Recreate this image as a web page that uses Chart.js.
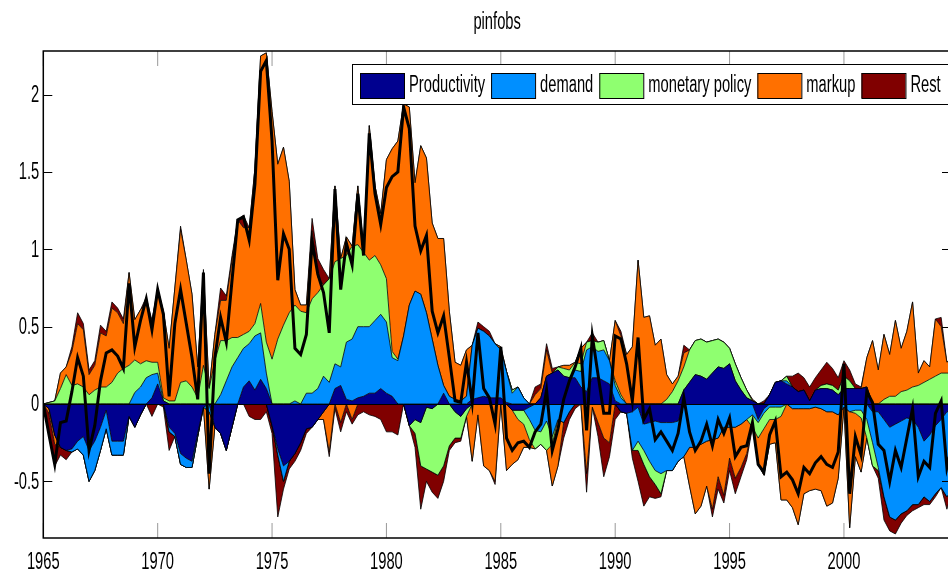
<!DOCTYPE html>
<html><head><meta charset="utf-8">
<script src="https://cdn.jsdelivr.net/npm/chart.js@4.4.1/dist/chart.umd.min.js"></script>
<style>
html,body{margin:0;padding:0;background:#fff;overflow:hidden;width:948px;height:572px;}
#wrap{position:relative;width:952px;height:572px;}
</style></head><body>
<div id="wrap"><canvas id="c" width="952" height="572"></canvas></div>
<script>
const chartTitle = 'pinfobs';
const firstYear = 1965;
const seriesNames = ['Productivity','demand','monetary policy','markup','Rest'];
const seriesColors = ['#00008F','#008FFF','#8FFF70','#FF7000','#800000'];
const xTicks = [1965,1970,1975,1980,1985,1990,1995,2000];
const yTicks = [-0.5,0,0.5,1,1.5,2];

const productivity = [0,-0.03,-0.2,-0.28,-0.3,-0.29,-0.24,-0.21,-0.3,-0.24,
-0.15,-0.04,-0.24,-0.24,-0.24,-0.08,-0.15,-0.07,0,0.04,
0.13,0.02,-0.15,-0.19,-0.32,-0.35,-0.37,-0.19,-0.02,0,
-0.15,-0.19,-0.3,-0.15,0,0.11,0.15,0.09,0.16,0.1,
-0.14,-0.29,-0.4,-0.37,-0.32,-0.25,-0.16,-0.15,-0.1,-0.05,
0,0.1,0.12,0.03,0.02,0.04,0.05,0.07,0.07,0.1,
0.07,0.05,0,0,-0.14,-0.1,-0.12,-0.02,-0.03,0,
0.07,0,-0.05,-0.08,-0.03,0.03,0.04,0.05,0.04,0.04,
0.04,0.01,-0.04,-0.04,-0.04,-0.02,0,0.04,0.18,0.2,
0.22,0.18,0.17,0.17,0.11,0.08,0.17,0.17,0.15,0.13,
0.02,-0.05,-0.06,-0.05,-0.02,-0.13,-0.12,-0.11,-0.12,-0.12,
-0.12,-0.11,0.09,0.14,0.19,0.18,0.16,0.2,0.24,0.23,
0.26,0.15,0.09,0.04,0.02,-0.1,-0.03,0.06,0.14,0.15,
0.13,0.11,0.08,0.09,0.02,0.09,0.1,0.1,0.09,0.06,
0.1,0.1,0.1,0.1,0.11,-0.05,-0.05,-0.1,-0.15,-0.13,
-0.11,-0.09,-0.1,-0.15,-0.24,-0.2,-0.14,-0.1,-0.05,-0.05];

const demand = [0,0,0,0,0,-0.02,-0.05,-0.12,-0.2,-0.19,
-0.15,-0.12,-0.09,-0.09,-0.09,0,0.075,0.11,0.17,0.15,
0.07,0,-0.03,-0.02,-0.07,-0.06,-0.04,-0.02,0,-0.05,
0,0.06,0.15,0.24,0.3,0.25,0.24,0.35,0.3,0.1,
0,-0.04,-0.1,0,0.02,0,0.07,0.07,0.1,0.18,
0.14,0.16,0.12,0.37,0.4,0.46,0.45,0.43,0.47,0.48,
0.46,0.25,0.28,0.44,0.64,0.73,0.71,0.59,0.42,0.25,
0.05,0.05,0.03,0.02,0.05,0.35,0.45,0.42,0.4,0.35,
0.31,0.2,0.07,0.11,0.04,-0.08,-0.17,-0.18,-0.11,-0.21,
-0.1,-0.12,-0.05,0.05,0.1,0.27,0.2,0.17,0.2,0.15,
0.1,0.04,0,-0.25,-0.22,-0.17,-0.25,-0.32,-0.33,-0.31,
-0.31,-0.26,-0.34,-0.28,-0.28,-0.26,-0.24,-0.23,-0.22,-0.15,
-0.15,-0.15,-0.13,-0.1,-0.07,-0.02,-0.03,-0.02,-0.02,-0.02,
0.02,-0.03,-0.03,-0.03,-0.03,-0.02,-0.03,-0.05,-0.05,-0.07,
-0.02,-0.05,-0.04,-0.04,-0.1,-0.2,-0.36,-0.5,-0.58,-0.62,
-0.6,-0.6,-0.55,-0.5,-0.36,-0.43,-0.44,-0.44,-0.55,-0.5];

const monetaryPolicy = [0,0.01,0.02,0.1,0.19,0.12,0.13,0.11,0.06,0.09,
0.11,0.11,0.14,0.2,0.23,0.25,0.21,0.15,0.11,0.08,
0.07,0.02,0.02,0.02,0.14,0.15,0.11,0.04,0.25,0.1,
0.28,0.35,0.26,0.19,0.13,0.09,0.08,0.08,0.19,0.2,
0.29,0.42,0.51,0.59,0.62,0.6,0.52,0.61,0.62,0.59,
0.67,0.66,0.7,0.56,0.6,0.53,0.48,0.43,0.42,0.32,
0.28,0.04,0.01,0,0,-0.09,-0.28,-0.4,-0.41,-0.46,
-0.4,-0.27,-0.17,-0.14,-0.05,0,0,0,0,0,
0,0,0.02,-0.06,-0.09,-0.13,-0.12,-0.08,-0.19,-0.05,
0.02,0.05,0.05,0.05,0.05,0.05,0.04,0.06,0.06,0,
0.03,0.02,0,0,-0.06,-0.09,-0.1,-0.09,-0.13,0.03,
0.08,0.15,0.15,0.21,0.22,0.24,0.24,0.21,0.18,0.17,
0.1,0.11,0.08,0.05,-0.08,-0.1,-0.1,-0.08,-0.08,-0.06,
0.03,0,0,0,0,0,0.02,0.03,0.03,0.03,
0.08,0.05,-0.02,-0.05,-0.12,-0.15,-0.02,0.03,0.05,0.05,
0.08,0.09,0.11,0.12,0.14,0.16,0.18,0.2,0.2,0.2];

const markup = [0,-0.03,-0.06,0.1,0.05,0.22,0.39,0.37,0.13,0.16,
0.35,0.33,0.48,0.39,0.29,0.6,0.26,0.35,0.37,0.27,
0.46,0.56,0.34,0.73,0.99,0.78,0.6,0.2,0.6,-0.5,
0.17,0.26,0.26,0.5,0.76,0.69,0.67,1.0,1.6,1.87,
1.6,1.13,1.15,0.85,0.1,0.04,0.05,0.44,0.1,-0.05,
-0.31,0.49,-0.12,0.12,-0.1,0.38,0.02,0.87,0.45,0.33,
0.77,1.31,1.41,1.5,1.28,0.7,0.96,1.0,0.75,0.82,
0.95,0.55,0.24,0.23,0.3,-0.37,-0.07,-0.4,-0.43,-0.5,
0.02,-0.43,-0.35,-0.26,-0.15,-0.05,0.06,0.06,0.17,-0.27,
-0.3,0.02,0.03,0,0.1,-0.45,-0.02,-0.12,-0.22,-0.25,
0.39,0.38,0.32,0.37,0.93,0.56,0.57,0.38,0.42,0.16,
0.05,0.03,0.09,-0.25,-0.43,-0.4,-0.29,-0.45,-0.25,-0.44,
-0.2,-0.33,-0.28,-0.22,0.01,-0.17,-0.3,-0.16,-0.15,-0.54,
-0.62,-0.64,-0.75,-0.55,-0.53,-0.53,-0.53,-0.61,-0.59,-0.41,
0,-0.75,-0.28,-0.35,0.19,0.41,0.22,0.42,0.27,0.49,
0.28,0.38,0.55,0.08,0.14,0.08,0.37,0.3,0.07,0.1];

const rest = [0,-0.15,-0.14,-0.05,-0.06,0.03,0.07,0.04,0.03,0.03,
0.05,0.03,0.04,0.03,0.03,0,0,0,0.04,-0.08,
0.02,-0.02,-0.12,0,0.02,0,0,0,0.02,0,
0,0.08,0.03,0.03,0,0.08,-0.08,-0.1,-0.1,-0.05,
-0.05,-0.4,-0.05,-0.05,-0.05,-0.05,-0.03,0.08,0.12,0.1,
-0.03,-0.03,-0.06,-0.05,-0.03,-0.07,-0.05,-0.07,-0.08,-0.1,
-0.18,-0.18,-0.2,0,0,-0.09,-0.28,-0.08,-0.13,-0.15,
-0.1,-0.03,-0.03,-0.02,0,0,0.04,0.03,0.03,-0.02,
0,0,0,0,0,0,0.05,0.03,0.04,0.03,
0,-0.1,-0.05,-0.03,0,-0.12,0.05,-0.09,-0.25,-0.09,
-0.1,0.03,0,-0.05,-0.2,-0.27,-0.13,-0.09,-0.02,0,
0,0,0.05,0,0,0,0,-0.05,-0.08,-0.05,
-0.08,-0.1,-0.06,-0.04,0,0,0.02,0,0,0,
0,0.07,0.12,0.08,0.09,0.08,0.1,0.14,0.11,0.08,
0.1,0.07,0.03,0.01,0,0,-0.05,-0.15,-0.09,-0.09,
-0.06,-0.03,-0.04,-0.02,-0.05,-0.02,-0.02,0.06,-0.08,0];

const observed = [0,-0.2,-0.39,-0.12,-0.11,0.08,0.3,0.18,-0.3,-0.14,
0.15,0.33,0.35,0.31,0.23,0.78,0.37,0.54,0.68,0.48,
0.74,0.58,0.05,0.52,0.74,0.52,0.3,0.03,0.85,-0.45,
0.3,0.56,0.4,0.8,1.19,1.21,1.06,1.42,2.15,2.22,
1.7,0.8,1.1,1.0,0.36,0.32,0.45,1.05,0.84,0.72,
0.46,1.39,0.74,1.04,0.9,1.36,0.96,1.75,1.36,1.16,
1.4,1.47,1.5,1.92,1.78,1.15,0.99,1.09,0.6,0.46,
0.57,0.3,0.02,0.01,0.27,0.01,0.46,0.1,0.04,-0.13,
0.37,-0.22,-0.3,-0.25,-0.24,-0.28,-0.18,-0.13,0.09,-0.3,
-0.16,0.03,0.15,0.24,0.36,-0.17,0.44,0.19,-0.06,-0.06,
0.44,0.42,0.26,0.02,0.43,-0.1,-0.03,-0.23,-0.18,-0.24,
-0.3,-0.19,0.04,-0.18,-0.3,-0.24,-0.13,-0.27,-0.1,-0.19,
-0.09,-0.34,-0.28,-0.27,-0.12,-0.39,-0.44,-0.2,-0.11,-0.47,
-0.44,-0.49,-0.58,-0.41,-0.45,-0.38,-0.34,-0.39,-0.41,-0.31,
0.26,-0.58,-0.21,-0.33,0.08,0.01,-0.26,-0.3,-0.5,-0.3,
-0.41,-0.22,-0.03,-0.47,-0.37,-0.41,-0.06,0.02,-0.41,-0.25];

const FONT = "'Liberation Sans', Arial, sans-serif";
const FONT_SIZE = 23;
const SQUEEZE = 0.64;
const dates = productivity.map((_, i) => firstYear + i / 4);
const components = [productivity, demand, monetaryPolicy, markup, rest];
const toPoints = (arr, f) => arr.map((v, i) => ({x: dates[i], y: f(v)}));

const datasets = [];
['pos','neg'].forEach(side => {
  components.forEach((arr, k) => {
    datasets.push({
      label: seriesNames[k] + ' ' + side,
      data: toPoints(arr, side === 'pos' ? v => Math.max(v, 0) : v => Math.min(v, 0)),
      stack: side,
      fill: k === 0 ? 'origin' : '-1',
      backgroundColor: seriesColors[k],
      borderColor: '#000',
      borderWidth: 0.8,
      pointRadius: 0,
      tension: 0,
      order: 1
    });
  });
});
datasets.push({
  label: chartTitle,
  data: toPoints(observed, v => v),
  stack: 'obs',
  fill: false,
  borderColor: '#000',
  borderWidth: 3,
  pointRadius: 0,
  tension: 0,
  order: 0
});

function squeezedText(ctx, text, x, y, align, baseline) {
  ctx.save();
  ctx.translate(x, y);
  ctx.scale(SQUEEZE, 1);
  ctx.textAlign = align;
  ctx.textBaseline = baseline;
  ctx.fillText(text, 0, 0);
  ctx.restore();
}

const decor = {
  id: 'decor',
  afterDatasetDraw(chart, args) {
    if (args.index !== 0) return;
    const {ctx, chartArea: a, scales: {y}} = chart;
    const y0 = Math.round(y.getPixelForValue(0)) + 0.5;
    ctx.save();
    ctx.strokeStyle = '#000'; ctx.lineWidth = 1.2;
    ctx.beginPath(); ctx.moveTo(a.left, y0); ctx.lineTo(a.right, y0); ctx.stroke();
    ctx.restore();
  },
  afterDraw(chart) {
    const {ctx, chartArea: a, scales: {x, y}} = chart;
    ctx.save();
    ctx.lineWidth = 1;
    ctx.strokeStyle = '#999';
    xTicks.forEach(v => {
      const px = x.getPixelForValue(v);
      ctx.beginPath();
      ctx.moveTo(px, a.bottom); ctx.lineTo(px, a.bottom - 15);
      ctx.moveTo(px, a.top); ctx.lineTo(px, a.top + 15);
      ctx.stroke();
    });
    ctx.strokeStyle = '#000';
    yTicks.forEach(v => {
      const py = Math.round(y.getPixelForValue(v)) + 0.5;
      ctx.beginPath();
      ctx.moveTo(a.left, py); ctx.lineTo(a.left + 9, py);
      ctx.moveTo(a.right, py); ctx.lineTo(a.right - 9, py);
      ctx.stroke();
    });
    ctx.strokeStyle = '#000'; ctx.lineWidth = 1.5;
    ctx.strokeRect(a.left, a.top, a.right - a.left, a.bottom - a.top);
    ctx.fillStyle = '#000';
    ctx.font = FONT_SIZE + 'px ' + FONT;
    xTicks.forEach(v => squeezedText(ctx, String(v), x.getPixelForValue(v), 569, 'center', 'alphabetic'));
    yTicks.forEach(v => squeezedText(ctx, String(v), a.left - 4, y.getPixelForValue(v) + 1, 'right', 'middle'));
    squeezedText(ctx, chartTitle, (a.left + a.right) / 2, 29, 'center', 'alphabetic');
    const bx = 352.5, by = 64.5, bh = 40;
    ctx.fillStyle = '#fff';
    ctx.fillRect(bx, by, 620, bh);
    ctx.strokeStyle = '#000'; ctx.lineWidth = 1;
    ctx.strokeRect(bx, by, 620, bh);
    let lx = 360;
    seriesNames.forEach((name, k) => {
      ctx.fillStyle = seriesColors[k];
      ctx.fillRect(lx, 73, 44, 25);
      ctx.strokeStyle = '#000';
      ctx.strokeRect(lx + 0.5, 73.5, 44, 25);
      ctx.fillStyle = '#000';
      squeezedText(ctx, name, lx + 49, 86, 'left', 'middle');
      lx = lx + 49 + ctx.measureText(name).width * SQUEEZE + 6;
    });
    ctx.restore();
  }
};

new Chart(document.getElementById('c'), {
  type: 'line',
  data: {datasets},
  options: {
    responsive: false,
    animation: false,
    devicePixelRatio: 1,
    layout: {padding: {top: 51, right: 1, left: 0, bottom: 0}},
    plugins: {legend: {display: false}, title: {display: false}, tooltip: {enabled: false}},
    scales: {
      x: {
        type: 'linear', min: 1965, max: 2004.68,
        grid: {display: false, drawTicks: false},
        border: {display: false},
        afterBuildTicks: s => { s.ticks = xTicks.map(v => ({value: v})); },
        afterFit: s => { s.height = 34; },
        ticks: {display: false}
      },
      y: {
        stacked: true, min: -0.866, max: 2.282,
        grid: {display: false, drawTicks: false},
        border: {display: false},
        afterBuildTicks: s => { s.ticks = yTicks.map(v => ({value: v})); },
        afterFit: s => { s.width = 43.3; },
        ticks: {display: false}
      }
    }
  },
  plugins: [decor]
});
</script>
</body></html>
